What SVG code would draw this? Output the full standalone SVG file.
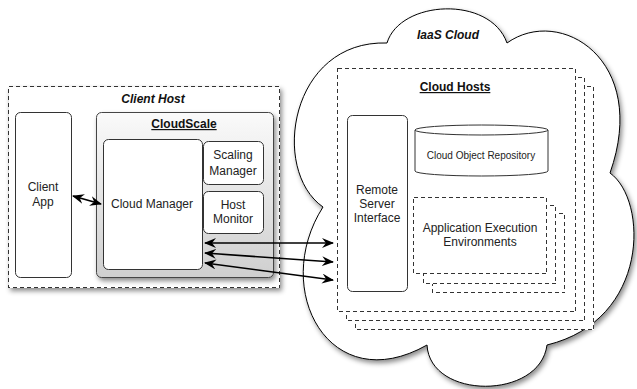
<svg xmlns="http://www.w3.org/2000/svg" width="637" height="389" viewBox="0 0 637 389">
<defs>
<style>
.t{font-family:"Liberation Sans",Arial,sans-serif;font-size:12px;fill:#222;text-anchor:middle}
.bi{font-weight:bold;font-style:italic;fill:#111}
.bu{font-weight:bold;text-decoration:underline;fill:#111}
.box{fill:#fff;stroke:#333;stroke-width:1}
.dash{fill:#fff;stroke:#333;stroke-width:1;stroke-dasharray:4,3;shape-rendering:crispEdges}
.conn{fill:none;stroke:#000;stroke-width:1.6;marker-start:url(#ah);marker-end:url(#ah)}
</style>
<linearGradient id="gs" x1="0" y1="0" x2="0" y2="1">
<stop offset="0" stop-color="#fafafa"/>
<stop offset="1" stop-color="#cfcfcf"/>
</linearGradient>
<filter id="sh" x="-10%" y="-10%" width="125%" height="125%">
<feDropShadow dx="2" dy="3" stdDeviation="2.5" flood-color="#000" flood-opacity="0.45"/>
</filter>
<marker id="ah" viewBox="0 0 12 10" refX="11" refY="5" markerWidth="12" markerHeight="10" markerUnits="userSpaceOnUse" orient="auto-start-reverse">
<path d="M0,0 L12,5 L0,10 L4,5 Z" fill="#000"/>
</marker>
</defs>

<g id="client-host">
<rect x="8.5" y="86.5" width="271" height="201" class="dash" filter="url(#sh)"/>
<text x="153" y="103" class="t bi">Client Host</text>
</g>

<g id="client-app">
<rect x="15.5" y="112.5" width="56" height="165" rx="5" class="box"/>
<text x="43" y="191" class="t">Client</text>
<text x="43" y="206" class="t">App</text>
</g>

<g id="cloudscale">
<rect x="96.5" y="112.5" width="177" height="165" rx="5" fill="url(#gs)" stroke="#444" filter="url(#sh)"/>
<text x="184" y="128" class="t bu">CloudScale</text>
</g>

<g id="cloud-manager">
<rect x="103.5" y="139.5" width="99" height="130" rx="5" class="box"/>
<text x="152" y="208" class="t">Cloud Manager</text>
</g>

<g id="scaling-manager">
<rect x="203.5" y="141.5" width="60" height="43" rx="5" class="box"/>
<text x="233" y="159" class="t">Scaling</text>
<text x="233" y="175" class="t">Manager</text>
</g>

<g id="host-monitor">
<rect x="203.5" y="191.5" width="60" height="42" rx="5" class="box"/>
<text x="233" y="209" class="t">Host</text>
<text x="233" y="223" class="t">Monitor</text>
</g>

<g id="iaas-cloud">
<path d="M387,43 C400,0 490,-5 507,43 C560,5 650,60 610,173 C648,200 650,320 547,345 C540,400 430,400 427,345 C330,400 270,290 323,207 C270,170 290,40 387,43 Z" fill="#fff" stroke="#000" stroke-width="1" filter="url(#sh)"/>
<text x="448" y="39" class="t bi">IaaS Cloud</text>
</g>

<g id="cloud-hosts">
<rect x="355.5" y="86.5" width="238" height="243" class="dash"/>
<rect x="346.5" y="77.5" width="238" height="243" class="dash"/>
<rect x="337.5" y="68.5" width="238" height="243" class="dash"/>
<text x="455" y="91" class="t bu">Cloud Hosts</text>
</g>

<g id="remote-server-interface">
<rect x="347.5" y="115.5" width="60" height="176" rx="5" class="box"/>
<text x="377" y="194" class="t">Remote</text>
<text x="377" y="208" class="t">Server</text>
<text x="377" y="222" class="t">Interface</text>
</g>

<g id="cloud-object-repository">
<path d="M415,130 L415,171 A66.5,5 0 0 0 548,171 L548,130" class="box"/>
<ellipse cx="481.5" cy="130" rx="66.5" ry="5" class="box"/>
<text x="481" y="159" class="t" style="font-size:10px">Cloud Object Repository</text>
</g>

<g id="application-execution-environments">
<rect x="432.5" y="213.5" width="132" height="79" class="dash"/>
<rect x="423.5" y="205.5" width="132" height="78" class="dash"/>
<rect x="413.5" y="197.5" width="133" height="76" class="dash"/>
<text x="480" y="232" class="t">Application Execution</text>
<text x="480" y="246" class="t">Environments</text>
</g>

<g id="connectors">
<line x1="73" y1="196" x2="101" y2="204" class="conn"/>
<line x1="205" y1="243" x2="333" y2="243" class="conn"/>
<line x1="205" y1="253" x2="333" y2="262" class="conn"/>
<line x1="205" y1="263" x2="333" y2="280" class="conn"/>
</g>
</svg>
